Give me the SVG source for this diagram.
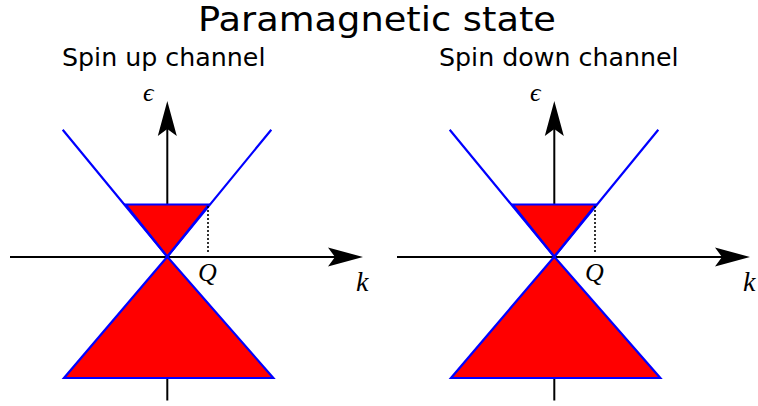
<svg xmlns="http://www.w3.org/2000/svg" width="758" height="406" viewBox="0 0 758 406">
<style>
.t{font-family:"DejaVu Sans","Liberation Sans",sans-serif;fill:#000}
.m{font-family:"Liberation Serif","DejaVu Serif",serif;font-style:italic;fill:#000}
.ax{stroke:#000;stroke-width:2;fill:none}
.cone{stroke:#0000ff;stroke-width:2.2;fill:none;stroke-linejoin:miter}
.fill{fill:#ff0000;stroke:#0000ff;stroke-width:2.2;stroke-linejoin:miter}
.dot{stroke:#000;stroke-width:1.6;stroke-dasharray:2 2;fill:none}
</style>
<defs>
<marker id="arr" markerUnits="userSpaceOnUse" markerWidth="40" markerHeight="24" refX="7" refY="0" orient="auto" overflow="visible">
<path d="M0,-9.5 L35,0 L0,9.5 L7,0 Z" fill="#000"/>
</marker>
</defs>
<g id="title"><text class="t" x="198" y="31" font-size="33" textLength="358" lengthAdjust="spacingAndGlyphs">Paramagnetic state</text></g>
<g id="connectors">
<line class="ax" x1="10" y1="257" x2="335" y2="257" marker-end="url(#arr)"/>
<line class="ax" x1="167.3" y1="400.5" x2="167.3" y2="129" marker-end="url(#arr)"/>
<line class="ax" x1="397" y1="257" x2="722" y2="257" marker-end="url(#arr)"/>
<line class="ax" x1="554.3" y1="400.5" x2="554.3" y2="129" marker-end="url(#arr)"/>
</g>
<g id="spin-up">
<text class="t" x="62" y="66" font-size="25.3">Spin up channel</text>
<polygon class="fill" points="125.5,204.5 209,204.5 167.3,256.7"/>
<polygon class="fill" points="167.3,256.7 273.3,378 64,378"/>
<polyline class="cone" points="62.7,129.7 167.3,256.7 271.3,129.7"/>
<line class="dot" x1="208" y1="206" x2="208" y2="254"/>
<text class="m" x="143" y="101" font-size="26">ϵ</text>
<text class="m" x="198" y="281" font-size="26">Q</text>
<text class="m" x="356" y="291" font-size="28">k</text>
</g>
<g id="spin-down">
<text class="t" x="439" y="66" font-size="25.3">Spin down channel</text>
<polygon class="fill" points="512.5,204.5 596,204.5 554.3,256.7"/>
<polygon class="fill" points="554.3,256.7 660.3,378 451,378"/>
<polyline class="cone" points="449.7,129.7 554.3,256.7 658.3,129.7"/>
<line class="dot" x1="595" y1="206" x2="595" y2="254"/>
<text class="m" x="530" y="101" font-size="26">ϵ</text>
<text class="m" x="585" y="281" font-size="26">Q</text>
<text class="m" x="743" y="291" font-size="28">k</text>
</g>
</svg>
